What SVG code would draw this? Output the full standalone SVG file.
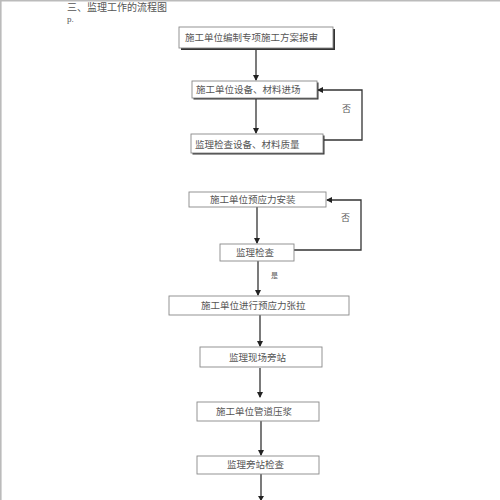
<svg xmlns="http://www.w3.org/2000/svg" width="500" height="500" viewBox="0 0 500 500">
<defs>
<style>
.bx{fill:#fff;stroke:#888;stroke-width:0.9}
.sh{fill:#333}
.t{font-family:"Liberation Serif","Noto Sans CJK SC",serif;font-size:9.5px;fill:#555}
.c{stroke:#333;stroke-width:1.3;fill:none}
</style>
<marker id="ah" markerWidth="6" markerHeight="6" refX="5" refY="3" orient="auto" markerUnits="userSpaceOnUse">
<path d="M0,0 L6,3 L0,6 z" fill="#222"/>
</marker>
</defs>
<rect width="500" height="500" fill="#fff"/>
<path d="M0.8,500 V0.8 H500" stroke="#bbb" stroke-width="1.6" fill="none"/>
<text class="t" x="67" y="11" style="font-size:10px">三、监理工作的流程图</text>
<text class="t" x="67" y="22" style="font-size:9px">p.</text>

<g id="connectors">
<line class="c" x1="256" y1="48" x2="256" y2="80" marker-end="url(#ah)"/>
<line class="c" x1="256" y1="98" x2="256" y2="133" marker-end="url(#ah)"/>
<polyline class="c" points="323,140 362,140 362,90 318,90" marker-end="url(#ah)"/>
<line class="c" x1="257" y1="207" x2="257" y2="243" marker-end="url(#ah)"/>
<polyline class="c" points="294,250 361,250 361,200 327,200" marker-end="url(#ah)"/>
<line class="c" x1="258" y1="261" x2="258" y2="295" marker-end="url(#ah)"/>
<line class="c" x1="260" y1="315" x2="260" y2="346" marker-end="url(#ah)"/>
<line class="c" x1="260" y1="368" x2="260" y2="397" marker-end="url(#ah)"/>
<line class="c" x1="261" y1="421" x2="261" y2="455" marker-end="url(#ah)"/>
<line class="c" x1="261" y1="474" x2="261" y2="502"/>
<path d="M258,496 L264,496 L261,501 z" fill="#222"/>
<text class="t" x="342" y="112" style="font-size:9px">否</text>
<text class="t" x="341" y="221" style="font-size:9px">否</text>
<text class="t" x="271" y="278" style="font-size:7px">是</text>
</g>

<g id="n1"><rect class="sh" x="181" y="29" width="154" height="21"/><rect class="bx" x="179" y="27" width="154" height="21"/><text class="t" x="185" y="41">施工单位编制专项施工方案报审</text></g>
<g id="n2"><rect class="sh" x="193.5" y="82.5" width="125" height="17"/><rect class="bx" x="192" y="81" width="125" height="17"/><text class="t" x="196" y="93">施工单位设备、材料进场</text></g>
<g id="n3"><rect class="sh" x="192.5" y="135.5" width="132" height="19"/><rect class="bx" x="191" y="134" width="132" height="19"/><text class="t" x="195" y="148">监理检查设备、材料质量</text></g>
<g id="n4"><rect class="bx" x="189" y="192" width="137" height="15"/><text class="t" x="210" y="203">施工单位预应力安装</text></g>
<g id="n5"><rect class="bx" x="220" y="244" width="74" height="17"/><text class="t" x="236" y="256">监理检查</text></g>
<g id="n6"><rect class="bx" x="169" y="296" width="180" height="19"/><text class="t" x="201" y="309">施工单位进行预应力张拉</text></g>
<g id="n7"><rect class="bx" x="200" y="347" width="122" height="20"/><text class="t" x="229" y="361">监理现场旁站</text></g>
<g id="n8"><rect class="bx" x="197" y="402" width="122" height="19"/><text class="t" x="216" y="415">施工单位管道压浆</text></g>
<g id="n9"><rect class="bx" x="197" y="456" width="122" height="18"/><text class="t" x="227" y="468">监理旁站检查</text></g>
</svg>
